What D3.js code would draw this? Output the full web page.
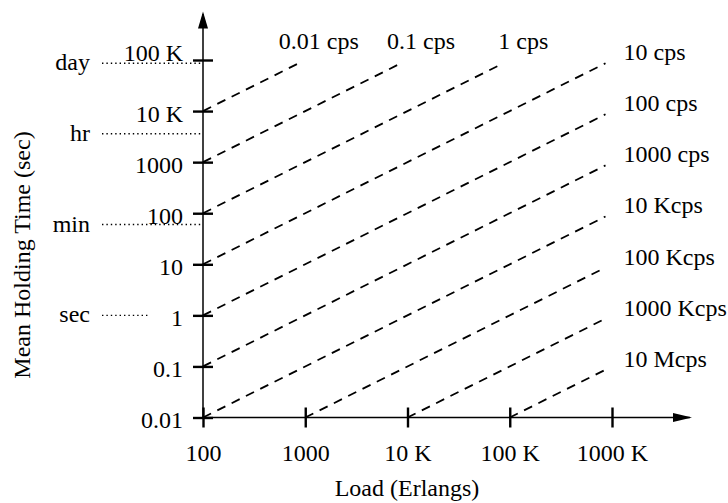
<!DOCTYPE html>
<html>
<head>
<meta charset="utf-8">
<script src="https://cdn.jsdelivr.net/npm/d3@7"></script>
<style>
  html, body { margin: 0; padding: 0; background: #fff; }
  svg { display: block; font-family: "Liberation Serif", "Times New Roman", serif; }
</style>
</head>
<body>
<svg id="chart" width="728" height="503"></svg>
<script>
const loadTicks = [100, 1000, 1e4, 1e5, 1e6];
const loadLabels = ['100', '1000', '10 K', '100 K', '1000 K'];
const timeTicks = [0.01, 0.1, 1, 10, 100, 1000, 1e4, 1e5];
const timeLabels = ['0.01', '0.1', '1', '10', '100', '1000', '10 K', '100 K'];
const refNames = ['day', 'hr', 'min', 'sec'];
const refSeconds = [86400, 3600, 60, 1];
const rateLabels = ['0.01 cps', '0.1 cps', '1 cps', '10 cps', '100 cps', '1000 cps',
  '10 Kcps', '100 Kcps', '1000 Kcps', '10 Mcps'];
// [load, holding time] at both ends of each dashed line
const lineStart = [[100, 1e4], [100, 1000], [100, 100], [100, 10], [100, 1], [100, 0.1],
  [100, 0.01], [1000, 0.01], [1e4, 0.01], [1e5, 0.01]];
const lineEnd = [[864, 86400], [8640, 86400], [86400, 86400], [864000, 86400], [864000, 8640],
  [864000, 864], [864000, 86.4], [864000, 8.64], [864000, 0.864], [864000, 0.0864]];

const fontSize = 24;
const svg = d3.select('#chart');

const x = d3.scaleLog().domain([100, 1e6]).range([203, 612]);
const y = d3.scaleLog().domain([0.01, 1e5]).range([417.5, 60]);
const x0 = x.range()[0], y0 = y.range()[0];

// reference durations (day, hr, ...) as dotted lines
const refs = svg.append('g').attr('class', 'refs');
refNames.forEach((name, i) => {
  const yy = y(refSeconds[i]);
  // line stops short of a tick label sitting right on it
  const onTick = timeTicks.includes(refSeconds[i]);
  refs.append('line')
    .attr('x1', 102).attr('x2', onTick ? x0 - 55 : x0)
    .attr('y1', yy).attr('y2', yy)
    .attr('stroke', '#000').attr('stroke-width', 1.4)
    .attr('stroke-dasharray', '1.4,3');
  refs.append('text')
    .attr('x', 90).attr('y', yy + 7)
    .attr('text-anchor', 'end')
    .attr('font-size', fontSize)
    .text(name);
});

// axes
const gx = svg.append('g')
  .attr('transform', `translate(0,${y0})`)
  .call(d3.axisBottom(x).tickValues(loadTicks).tickFormat((d, i) => loadLabels[i]).tickSize(10));
gx.select('.domain').remove();
gx.selectAll('.tick line').attr('y1', -10).attr('stroke-width', 2.4);
gx.selectAll('.tick text').attr('y', 43.5).attr('dy', null)
  .attr('font-size', fontSize).attr('font-family', null);
gx.attr('font-family', null);

const gy = svg.append('g')
  .attr('transform', `translate(${x0},0)`)
  .call(d3.axisLeft(y).tickValues(timeTicks).tickFormat((d, i) => timeLabels[i]).tickSize(10));
gy.select('.domain').remove();
gy.selectAll('.tick line').attr('x1', 10).attr('stroke-width', 2.4);
gy.selectAll('.tick text').attr('x', -20).attr('dy', null)
  .attr('y', (d, i) => i === timeTicks.length - 1 ? 0 : 10)
  .attr('font-size', fontSize);
gy.attr('font-family', null);

svg.append('line')
  .attr('x1', x0).attr('x2', 690).attr('y1', y0).attr('y2', y0)
  .attr('stroke', '#000').attr('stroke-width', 1.5);
svg.append('path')
  .attr('d', `M692,${y0}L673,${y0 - 4.5}L673,${y0 + 4.5}Z`).attr('fill', '#000');
svg.append('line')
  .attr('x1', x0).attr('x2', x0).attr('y1', y0).attr('y2', 14)
  .attr('stroke', '#000').attr('stroke-width', 1.5);
svg.append('path')
  .attr('d', `M${x0},11.5L${x0 - 5},28.5L${x0 + 5},28.5Z`).attr('fill', '#000');

// constant call-rate lines
const line = d3.line().x(d => x(d[0])).y(d => y(d[1]));
const pairs = d3.zip(lineStart, lineEnd);
svg.append('g').selectAll('path')
  .data(pairs).join('path')
  .attr('d', d => line(d))
  .attr('fill', 'none').attr('stroke', '#000')
  .attr('stroke-width', 1.8).attr('stroke-dasharray', '9,7');

svg.append('g').selectAll('text')
  .data(pairs).join('text')
  .attr('font-size', fontSize)
  .each(function (d, i) {
    const end = d[1];
    const top = end[0] < lineEnd[3][0];
    d3.select(this)
      .attr('x', top ? x(end[0]) + 20 : x(end[0]) + 18)
      .attr('y', top ? y(end[1]) - 14 : y(end[1]) - 3)
      .attr('text-anchor', top ? 'middle' : 'start')
      .text(rateLabels[i]);
  });

// axis titles
svg.append('text')
  .attr('x', 407).attr('y', 496)
  .attr('text-anchor', 'middle').attr('font-size', fontSize)
  .text('Load (Erlangs)');
svg.append('text')
  .attr('transform', 'translate(30,255) rotate(-90)')
  .attr('text-anchor', 'middle').attr('font-size', fontSize)
  .text('Mean Holding Time (sec)');
</script>
</body>
</html>
